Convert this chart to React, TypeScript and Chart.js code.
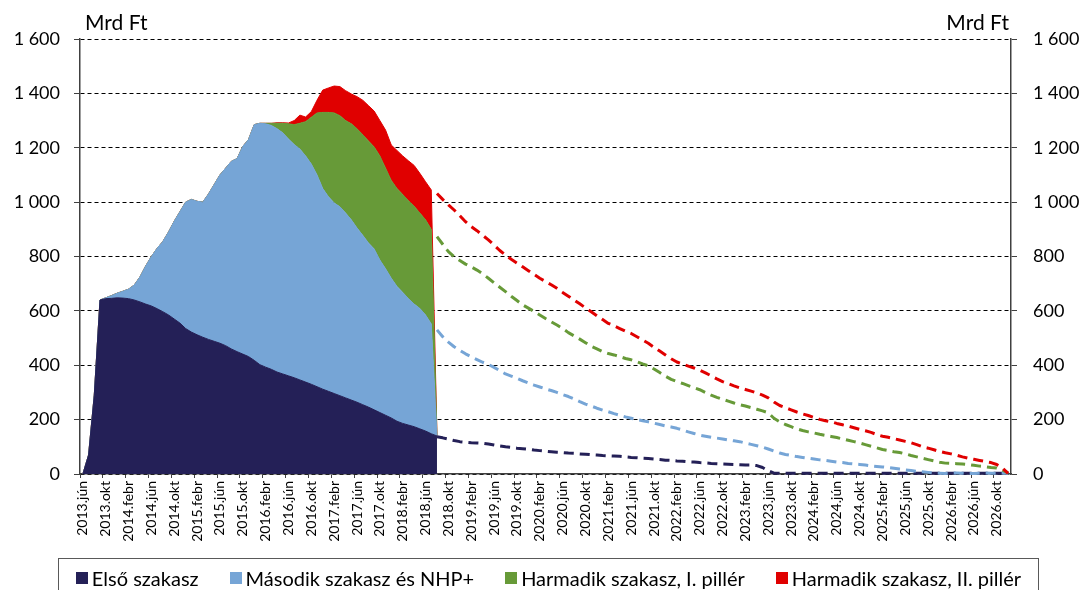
import React, { useEffect, useRef } from 'react';
import { Chart, registerables } from 'chart.js';

Chart.register(...registerables);

// ---------- categories (monthly, 2013.jún – 2026.dec) ----------
const monthNames = ['jan', 'febr', 'márc', 'ápr', 'máj', 'jún', 'júl', 'aug', 'szept', 'okt', 'nov', 'dec'];
const firstYear = 2013;
const firstMonth = 5; // jún
const lastYear = 2026;

const categories: string[] = [];
for (let y = firstYear; y <= lastYear; y++) {
  for (let m = 0; m < 12; m++) {
    if (y === firstYear && m < firstMonth) continue;
    categories.push(`${y}.${monthNames[m]}`);
  }
}

// ---------- stacked areas: 2013.jún – 2018.aug (Mrd Ft) ----------
const elsoSzakasz = [
  0, 70, 290, 640, 645, 646, 648, 647, 645, 640,
  633, 625, 618, 608, 597, 585, 570, 555, 535, 522,
  512, 503, 495, 488, 481, 472, 460, 450, 441, 432,
  418, 402, 393, 385, 375, 368, 361, 354, 346, 338,
  330, 321, 312, 304, 296, 288, 280, 272, 264, 255,
  246, 236, 226, 216, 206, 194, 186, 180, 174, 166,
  158, 148, 140,
];
const masodikSzakasz = [
  0, 0, 0, 0, 3, 10, 17, 25, 35, 55,
  92, 140, 182, 222, 258, 305, 360, 410, 465, 488,
  491, 497, 535, 577, 619, 653, 690, 710, 764, 798,
  867, 888, 895, 897, 895, 887, 871, 858, 849, 832,
  810, 779, 738, 716, 701, 695, 680, 663, 641, 623,
  604, 592, 561, 539, 514, 496, 482, 465, 451, 443,
  427, 404, 0,
];
const harmadikI = [
  0, 0, 0, 0, 0, 0, 0, 0, 0, 0,
  0, 0, 0, 0, 0, 0, 0, 0, 0, 0,
  0, 0, 0, 0, 0, 0, 0, 0, 0, 0,
  0, 0, 2, 8, 20, 35, 56, 73, 95, 126,
  172, 228, 280, 310, 331, 335, 340, 353, 365, 370,
  375, 375, 383, 370, 360, 360, 360, 360, 360, 351,
  350, 348, 0,
];
const harmadikII = [
  0, 0, 0, 0, 0, 0, 0, 0, 0, 0,
  0, 0, 0, 0, 0, 0, 0, 0, 0, 0,
  0, 0, 0, 0, 0, 0, 0, 0, 0, 0,
  0, 0, 0, 0, 2, 2, 3, 15, 30, 17,
  21, 47, 82, 90, 99, 107, 110, 110, 118, 127,
  130, 132, 130, 140, 130, 140, 142, 147, 150, 146,
  140, 145, 0,
];

// ---------- projections (cumulative levels, 2018.aug – 2026.dec) ----------
const projElso = [
  137, 133, 128, 123, 119, 117, 115, 114, 113, 110,
  107, 103, 100, 98, 95, 93, 91, 88, 86, 84,
  82, 80, 79, 77, 76, 74, 73, 71, 70, 68,
  67, 66, 65, 63, 61, 60, 58, 57, 55, 53,
  51, 50, 48, 47, 45, 44, 42, 41, 39, 38,
  37, 36, 35, 34, 33, 33, 31, 24, 12, 3,
  3, 3, 3, 3, 3, 3, 3, 3, 3, 3,
  3, 3, 3, 3, 3, 3, 3, 3, 3, 3,
  3, 3, 3, 3, 3, 3, 3, 3, 3, 3,
  3, 3, 3, 3, 3, 3, 3, 3, 3, 3,
  3,
];
const projMasodik = [
  530, 505, 485, 468, 455, 442, 431, 421, 411, 403,
  392, 380, 368, 360, 352, 343, 335, 327, 320, 313,
  307, 300, 292, 285, 276, 266, 257, 250, 242, 235,
  229, 222, 216, 210, 205, 200, 196, 192, 187, 182,
  177, 173, 168, 162, 155, 149, 143, 139, 135, 132,
  129, 125, 122, 119, 114, 109, 104, 99, 92, 84,
  77, 72, 68, 64, 61, 58, 55, 52, 50, 47,
  44, 42, 39, 37, 35, 33, 30, 28, 26, 24,
  21, 18, 15, 13, 10, 8, 6, 4, 3, 2,
  3, 4, 3, 2, 2, 3, 4, 3, 3, 4,
  2,
];
const projHarmadikI = [
  873, 845, 818, 799, 785, 772, 762, 750, 736, 720,
  703, 687, 671, 654, 638, 622, 610, 598, 585, 572,
  560, 548, 535, 520, 508, 496, 483, 470, 460, 450,
  443, 438, 432, 425, 420, 413, 405, 398, 386, 373,
  360, 348, 340, 333, 325, 317, 310, 300, 290, 282,
  275, 268, 261, 255, 250, 244, 238, 232, 225, 205,
  192, 182, 174, 166, 160, 155, 151, 146, 142, 138,
  134, 129, 124, 119, 114, 108, 102, 96, 90, 86,
  82, 79, 74, 68, 63, 58, 53, 48, 43, 40,
  39, 38, 37, 35, 32, 29, 27, 24, 22, 14,
  4,
];
const projHarmadikII = [
  1032, 1010, 990, 971, 950, 928, 910, 895, 878, 861,
  842, 822, 805, 790, 776, 762, 748, 734, 720, 708,
  696, 683, 668, 654, 640, 626, 611, 597, 582, 568,
  554, 545, 535, 525, 517, 505, 493, 481, 466, 452,
  438, 424, 412, 404, 397, 390, 382, 372, 361, 350,
  340, 332, 324, 317, 311, 305, 298, 290, 280, 265,
  252, 244, 236, 228, 221, 215, 208, 201, 196, 192,
  186, 181, 176, 170, 164, 159, 153, 145, 139, 135,
  130, 125, 120, 115, 108, 100, 95, 89, 83, 78,
  74, 69, 63, 58, 54, 50, 46, 42, 35, 22,
  2,
];

const seriesNames = ['Első szakasz', 'Második szakasz és NHP+', 'Harmadik szakasz, I. pillér', 'Harmadik szakasz, II. pillér'];
const seriesColors = ['#242057', '#76A5D6', '#679A38', '#E00000'];

const yTicks = { min: 0, max: 1600, step: 200 };

const FONT = 'Lato';

function padTo(arr: number[], start: number): (number | null)[] {
  const out: (number | null)[] = [];
  for (let i = 0; i < categories.length; i++) {
    const j = i - start;
    out.push(j >= 0 && j < arr.length ? arr[j] : null);
  }
  return out;
}

const projStart = elsoSzakasz.length - 1;

function fmt(v: number | string) {
  return String(v).replace(/\B(?=(\d{3})+(?!\d))/g, ' ');
}

const unitLabels = {
  id: 'unitLabels',
  afterDraw(chart: any) {
    const { ctx, chartArea } = chart;
    ctx.save();
    ctx.fillStyle = '#000';
    ctx.font = `21px ${FONT}`;
    ctx.textBaseline = 'alphabetic';
    ctx.textAlign = 'left';
    ctx.fillText('Mrd Ft', chartArea.left + 5, 30);
    ctx.textAlign = 'right';
    ctx.fillText('Mrd Ft', chartArea.right - 2, 30);
    ctx.restore();
  },
};

export default function App() {
  const ref = useRef<HTMLCanvasElement>(null);

  useEffect(() => {
    const areaData = [elsoSzakasz, masodikSzakasz, harmadikI, harmadikII];
    const projData = [projElso, projMasodik, projHarmadikI, projHarmadikII];

    const datasets: any[] = [];
    areaData.forEach((arr, k) => {
      datasets.push({
        type: 'line',
        label: seriesNames[k],
        data: padTo(arr, 0),
        backgroundColor: seriesColors[k],
        borderColor: seriesColors[k],
        borderWidth: 1,
        pointRadius: 0,
        fill: k === 0 ? 'origin' : '-1',
        yAxisID: 'y',
        order: 5,
        tension: 0,
      });
    });
    projData.forEach((arr, k) => {
      datasets.push({
        type: 'line',
        label: seriesNames[k] + ' (előrejelzés)',
        data: padTo(arr, projStart),
        borderColor: seriesColors[k],
        backgroundColor: seriesColors[k],
        borderWidth: 3,
        borderDash: [10, 6],
        pointRadius: 0,
        fill: false,
        yAxisID: 'y2',
        order: 4 - k,
        clip: 4,
        tension: 0,
      });
    });

    const chart = new Chart(ref.current!, {
      type: 'line',
      data: { labels: categories, datasets },
      plugins: [unitLabels],
      options: {
        responsive: false,
        animation: false,
        devicePixelRatio: 1,
        layout: { padding: { top: 39, right: 0, bottom: 0, left: 0 } },
        plugins: {
          legend: { display: false },
          tooltip: { enabled: false },
        },
        elements: { line: { borderJoinStyle: 'round' } },
        scales: {
          x: {
            type: 'category',
            offset: true,
            afterFit: (s: any) => { s.height = 116; },
            grid: {
              offset: true,
              drawOnChartArea: false,
              drawTicks: true,
              tickLength: 4,
              tickWidth: 1,
              tickColor: (ctx: any) => (typeof ctx.index === 'number' && ctx.index % 4 === 0 ? '#404040' : 'rgba(0,0,0,0)'),
            },
            border: { display: true, color: '#404040', width: 1.5 },
            ticks: {
              autoSkip: false,
              maxRotation: 90,
              minRotation: 90,
              padding: 3,
              color: '#000',
              font: { family: FONT, size: 14 },
              callback: (_v: any, i: number) => (i % 4 === 0 ? categories[i] : ''),
            },
          },
          y: {
            position: 'left',
            stacked: true,
            min: yTicks.min,
            max: yTicks.max,
            afterFit: (s: any) => { s.width = 80; },
            ticks: {
              stepSize: yTicks.step,
              color: '#000',
              padding: 14,
              font: { family: FONT, size: 18 },
              callback: (v: any) => fmt(v),
            },
            grid: { color: '#000', lineWidth: 1, drawTicks: true, tickLength: 6, tickColor: '#404040' },
            border: { display: true, color: '#404040', width: 1.5, dash: [4, 3] },
          },
          y2: {
            position: 'right',
            stacked: false,
            min: yTicks.min,
            max: yTicks.max,
            afterFit: (s: any) => { s.width = 72; },
            ticks: {
              stepSize: yTicks.step,
              color: '#000',
              padding: 16,
              font: { family: FONT, size: 18 },
              callback: (v: any) => fmt(v),
            },
            grid: { drawOnChartArea: false, drawTicks: true, tickLength: 6, tickColor: '#404040' },
            border: { display: true, color: '#404040', width: 1.5 },
          },
        },
      } as any,
    });
    return () => chart.destroy();
  }, []);

  return (
    <div style={{ position: 'fixed', left: 0, top: 0, width: 1083, height: 590, overflow: 'hidden', background: '#fff', fontFamily: FONT }}>
      <canvas ref={ref} width={1083} height={590} style={{ display: 'block', width: 1083, height: 590 }} />
      <div
        style={{
          position: 'absolute', left: 58, top: 558, width: 981, height: 40, boxSizing: 'border-box',
          border: '1px solid #595959', display: 'flex', alignItems: 'center', justifyContent: 'center', gap: 31,
        }}
      >
        {seriesNames.map((name, k) => (
          <div key={name} style={{ display: 'flex', alignItems: 'center', whiteSpace: 'nowrap' }}>
            <span style={{ display: 'inline-block', width: 12, height: 12, background: seriesColors[k], marginRight: 4 }} />
            <span style={{ fontSize: 20, color: '#000', lineHeight: '20px' }}>{name}</span>
          </div>
        ))}
      </div>
    </div>
  );
}
